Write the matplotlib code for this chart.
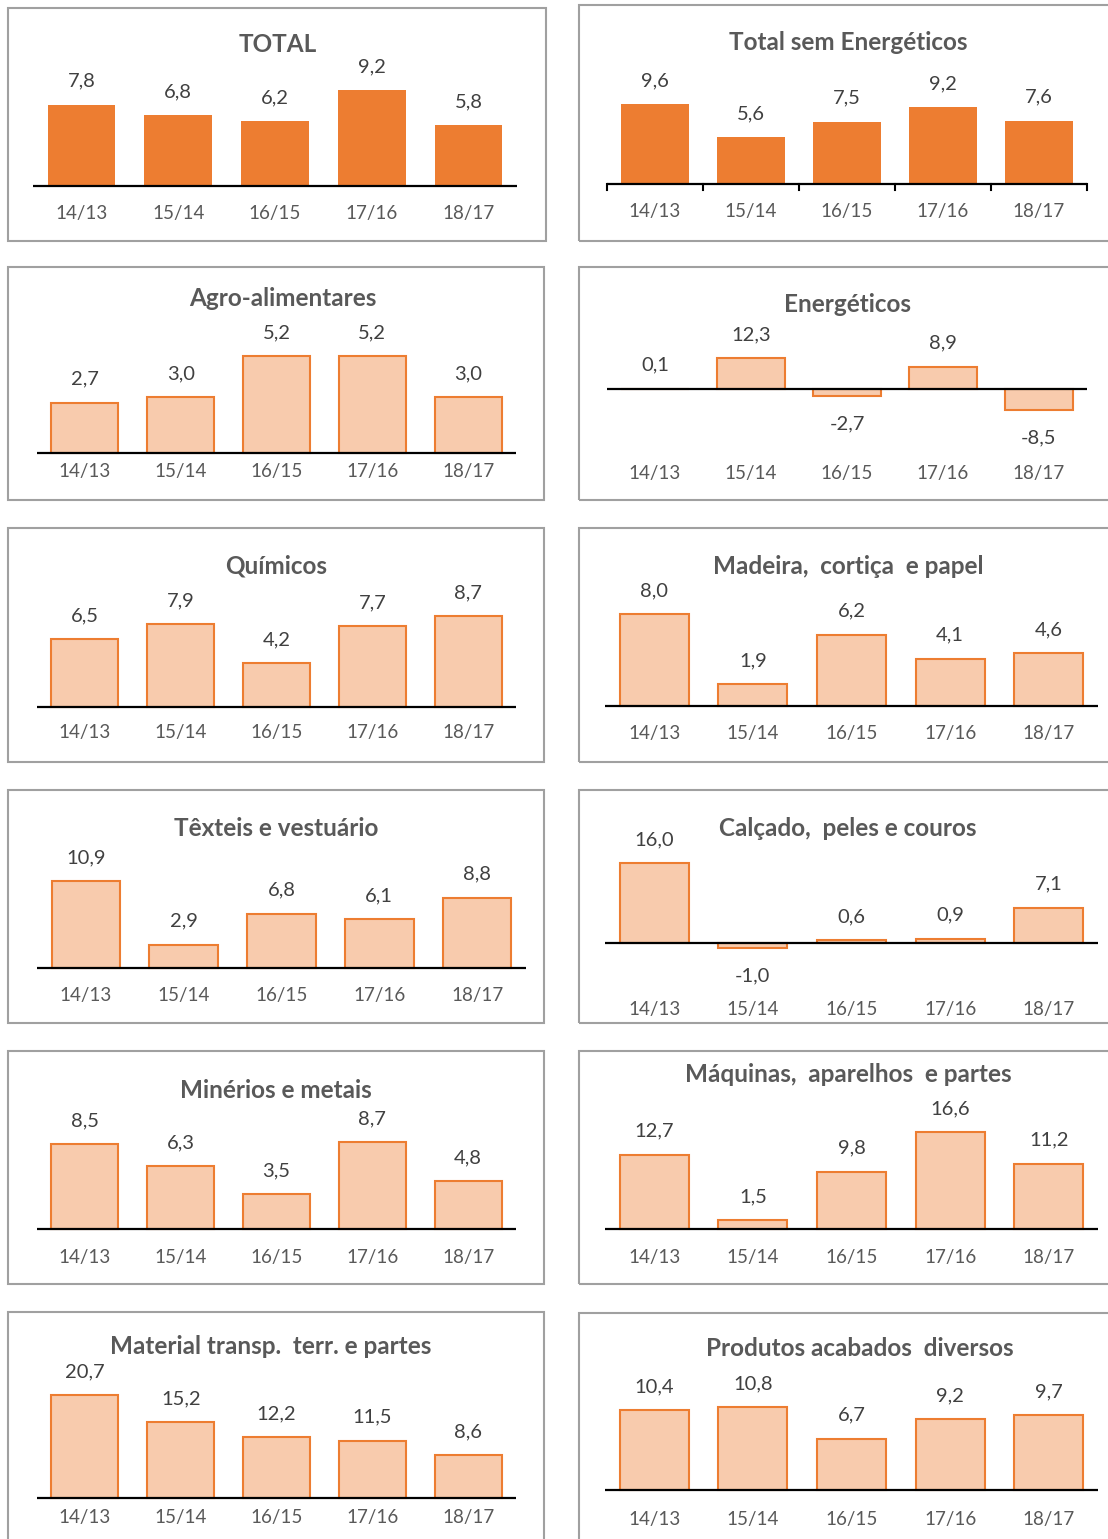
import matplotlib
matplotlib.use('Agg')
import matplotlib.pyplot as plt
from matplotlib.patches import Rectangle
from matplotlib.transforms import blended_transform_factory

plt.rcParams['font.family'] = ['Lato', 'DejaVu Sans']

W, H = 1108, 1539

# data
categories = ['14/13', '15/14', '16/15', '17/16', '18/17']

total = [7.8, 6.8, 6.2, 9.2, 5.8]
total_sem_energeticos = [9.6, 5.6, 7.5, 9.2, 7.6]
agro_alimentares = [2.7, 3.0, 5.2, 5.2, 3.0]
energeticos = [0.1, 12.3, -2.7, 8.9, -8.5]
quimicos = [6.5, 7.9, 4.2, 7.7, 8.7]
madeira = [8.0, 1.9, 6.2, 4.1, 4.6]
texteis = [10.9, 2.9, 6.8, 6.1, 8.8]
calcado = [16.0, -1.0, 0.6, 0.9, 7.1]
minerios = [8.5, 6.3, 3.5, 8.7, 4.8]
maquinas = [12.7, 1.5, 9.8, 16.6, 11.2]
material_transp = [20.7, 15.2, 12.2, 11.5, 8.6]
produtos_acabados = [10.4, 10.8, 6.7, 9.2, 9.7]

titles = ['TOTAL', 'Total sem Energéticos', 'Agro-alimentares', 'Energéticos',
          'Químicos', 'Madeira,  cortiça  e papel', 'Têxteis e vestuário',
          'Calçado,  peles e couros', 'Minérios e metais',
          'Máquinas,  aparelhos  e partes', 'Material transp.  terr. e partes',
          'Produtos acabados  diversos']
series = [total, total_sem_energeticos, agro_alimentares, energeticos,
          quimicos, madeira, texteis, calcado, minerios, maquinas,
          material_transp, produtos_acabados]

# layout in pixels: box (x0, y0, x1, y1), axis x0, x1, baseline y, px per unit,
# title (x, y), category label y
layout = [
    ((8, 8, 546, 241), 33, 517, 186, 96 / 9.2, (278, 45), 213),
    ((579, 5, 1112, 241), 607, 1087, 184, 80 / 9.6, (848, 42), 211),
    ((8, 267, 544, 500), 37, 516, 453, 97 / 5.2, (283, 298), 472),
    ((579, 267, 1112, 500), 607, 1087, 389, 31 / 12.3, (848, 305), 473),
    ((8, 528, 544, 762), 37, 516, 707, 91 / 8.7, (276, 566), 733),
    ((579, 528, 1112, 762), 605, 1098, 706, 92 / 8.0, (848, 566), 734),
    ((8, 790, 544, 1023), 37, 526, 968, 87 / 10.9, (276, 828), 995),
    ((579, 790, 1112, 1023), 605, 1098, 943, 80 / 16.0, (848, 828), 1009),
    ((8, 1051, 544, 1284), 37, 516, 1229, 87 / 8.7, (276, 1090), 1257),
    ((579, 1051, 1112, 1284), 605, 1098, 1229, 97 / 16.6, (848, 1075), 1258),
    ((8, 1312, 544, 1545), 37, 516, 1498, 103 / 20.7, (271, 1346), 1518),
    ((579, 1313, 1112, 1545), 605, 1098, 1490, 83 / 10.8, (860, 1349), 1519),
]

orange = '#ED7D31'
light = '#F8CBAD'
title_color = '#595959'
text_color = '#404040'

fig = plt.figure(figsize=(W / 100, H / 100), dpi=100)

for k, (vals, title, lay) in enumerate(zip(series, titles, layout)):
    (bx0, by0, bx1, by1), ax0, ax1, base, ppu, (tx, ty), ly = lay

    # panel border
    fig.add_artist(Rectangle((bx0 / W, 1 - by1 / H), (bx1 - bx0) / W, (by1 - by0) / H,
                             transform=fig.transFigure, fill=False,
                             edgecolor='#A0A0A0', linewidth=1.5))

    ax = fig.add_axes([ax0 / W, 1 - by1 / H, (ax1 - ax0) / W, (by1 - by0) / H])
    ax.set_xlim(-0.5, 4.5)
    ax.set_ylim(-(by1 - base) / ppu, (base - by0) / ppu)
    ax.axis('off')

    if k < 2:
        ax.bar(range(5), vals, width=0.7, color=orange, zorder=2)
    else:
        ax.bar(range(5), vals, width=0.7, color=light, edgecolor=orange,
               linewidth=1.5, zorder=2)
    ax.axhline(0, color='black', linewidth=1.6, zorder=3)

    if k == 1:
        for b in range(6):
            ax.plot([b - 0.5, b - 0.5], [0, -6 / ppu], color='black',
                    linewidth=1.5, zorder=3, clip_on=False)

    for i, v in enumerate(vals):
        lab = f'{v:.1f}'.replace('.', ',')
        if v >= 0:
            ax.annotate(lab, (i, v), xytext=(0, 13), textcoords='offset points',
                        ha='center', va='baseline', fontsize=14.5, color=text_color)
        else:
            ax.annotate(lab, (i, v), xytext=(0, -14), textcoords='offset points',
                        ha='center', va='top', fontsize=14.5, color=text_color)

    tr = blended_transform_factory(ax.transData, fig.transFigure)
    for i, c in enumerate(categories):
        ax.text(i, 1 - ly / H, c, transform=tr, ha='center', va='center',
                fontsize=13.5, color=title_color)

    fig.text(tx / W, 1 - ty / H, title, ha='center', va='center',
             fontsize=17.5, fontweight='bold', color=title_color)

fig.savefig('out.png', dpi=100)
